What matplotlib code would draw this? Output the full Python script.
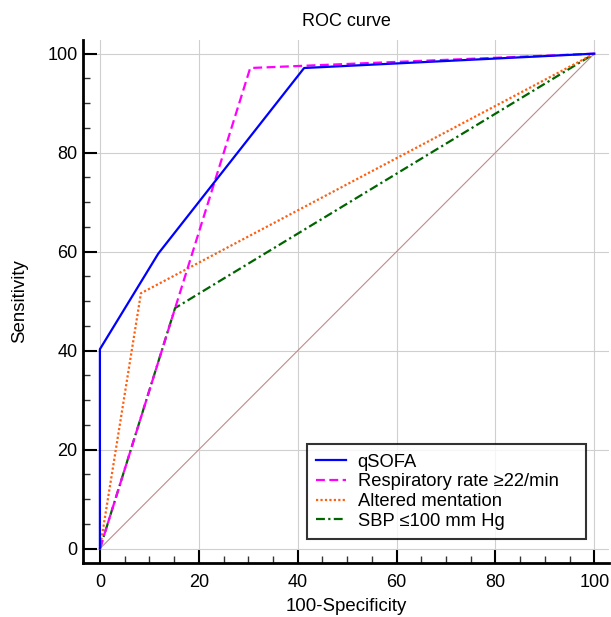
import matplotlib.pyplot as plt
from matplotlib.ticker import MultipleLocator

plt.rcParams['font.family'] = ['Liberation Sans', 'DejaVu Sans']

# ROC points (100-Specificity, Sensitivity)
qsofa_x = [0, 0, 11.8, 41.3, 100]
qsofa_y = [0, 40.3, 59.6, 97.1, 100]

resp_x = [0, 30.4, 100]
resp_y = [0, 97.1, 100]

mental_x = [0, 8.3, 100]
mental_y = [0, 51.6, 100]

sbp_x = [0, 15.2, 100]
sbp_y = [0, 48.6, 100]

ref_x = [0, 100]
ref_y = [0, 100]

fig = plt.figure(figsize=(6.11, 6.17), dpi=100)
ax = fig.add_axes([0.136, 0.0875, 0.861, 0.848])

ax.plot(ref_x, ref_y, color='#c08a8a', lw=0.8)
ax.plot(sbp_x, sbp_y, color='#006400', lw=1.6, linestyle=(0, (4, 1.5, 1, 1.5)),
        label='SBP \u2264100 mm Hg')
ax.plot(mental_x, mental_y, color='#ff6010', lw=1.6, linestyle=(0, (1, 1)),
        label='Altered mentation')
ax.plot(resp_x, resp_y, color='#ff00ff', lw=1.6, linestyle=(0, (4, 2)),
        label='Respiratory rate \u226522/min')
ax.plot(qsofa_x, qsofa_y, color='#0000ff', lw=1.6, label='qSOFA')

ax.set_xlim(-3.4, 103)
ax.set_ylim(-2.9, 102.8)

ax.xaxis.set_major_locator(MultipleLocator(20))
ax.yaxis.set_major_locator(MultipleLocator(20))
ax.set_xticks([t for t in range(0, 101, 5) if t % 20], minor=True)
ax.set_yticks([t for t in range(0, 101, 5) if t % 20], minor=True)
ax.tick_params(which='major', direction='in', length=10, width=1.5, labelsize=13, color='black')
ax.tick_params(which='minor', direction='in', length=5, width=1, color='#333333')
ax.tick_params(axis='x', which='major', pad=8)
ax.tick_params(axis='y', which='major', pad=4)

for s in ['top', 'right']:
    ax.spines[s].set_visible(False)
for s in ['left', 'bottom']:
    ax.spines[s].set_linewidth(2)

ax.grid(True, which='major', color='#cfcfcf', lw=0.8)

ax.set_title('ROC curve', fontsize=13, pad=10)
ax.set_xlabel('100-Specificity', fontsize=13.4, labelpad=5)
ax.set_ylabel('Sensitivity', fontsize=13.4, labelpad=14)

h, l = ax.get_legend_handles_labels()
leg = ax.legend(h[::-1], l[::-1], loc='lower left', bbox_to_anchor=(0.426, 0.046, 0.530, 0.18),
                mode='expand', fontsize=13.2, frameon=True, fancybox=False, edgecolor='black',
                handlelength=1.6, handletextpad=0.65, borderpad=0.5, labelspacing=0.15,
                borderaxespad=0)
leg.get_frame().set_linewidth(1.5)

fig.savefig('out.png', dpi=100)
